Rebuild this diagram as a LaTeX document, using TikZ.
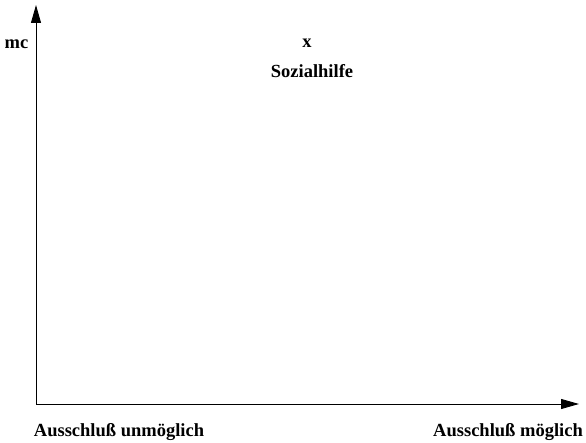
\documentclass[tikz,border=0pt]{standalone}
\usepackage{fontspec}
\setmainfont{Liberation Serif}
\usetikzlibrary{arrows.meta}
\begin{document}
\begin{tikzpicture}[x=1pt,y=-1pt,
  axis/.style={line width=0.9pt,-{Triangle[length=18pt,width=10pt]}},
  lbl/.style={font=\bfseries\fontsize{18.5}{21}\selectfont,inner sep=0pt}]
\useasboundingbox (0,0) rectangle (586,443);
\coordinate (o) at (36,404);
\coordinate (ytop) at (36,5);
\coordinate (xend) at (579,404);
\draw[axis] (o) -- (ytop);
\draw[axis] (o) -- (xend);
\node[lbl] (mc) at (16.5,44) {mc};
\node[lbl] (x) at (307,43) {x};
\node[lbl] (soz) at (312,71) {Sozialhilfe};
\node[lbl] (au) at (119,432) {Ausschluß unmöglich};
\node[lbl] (am) at (508,432) {Ausschluß möglich};
\end{tikzpicture}
\end{document}
